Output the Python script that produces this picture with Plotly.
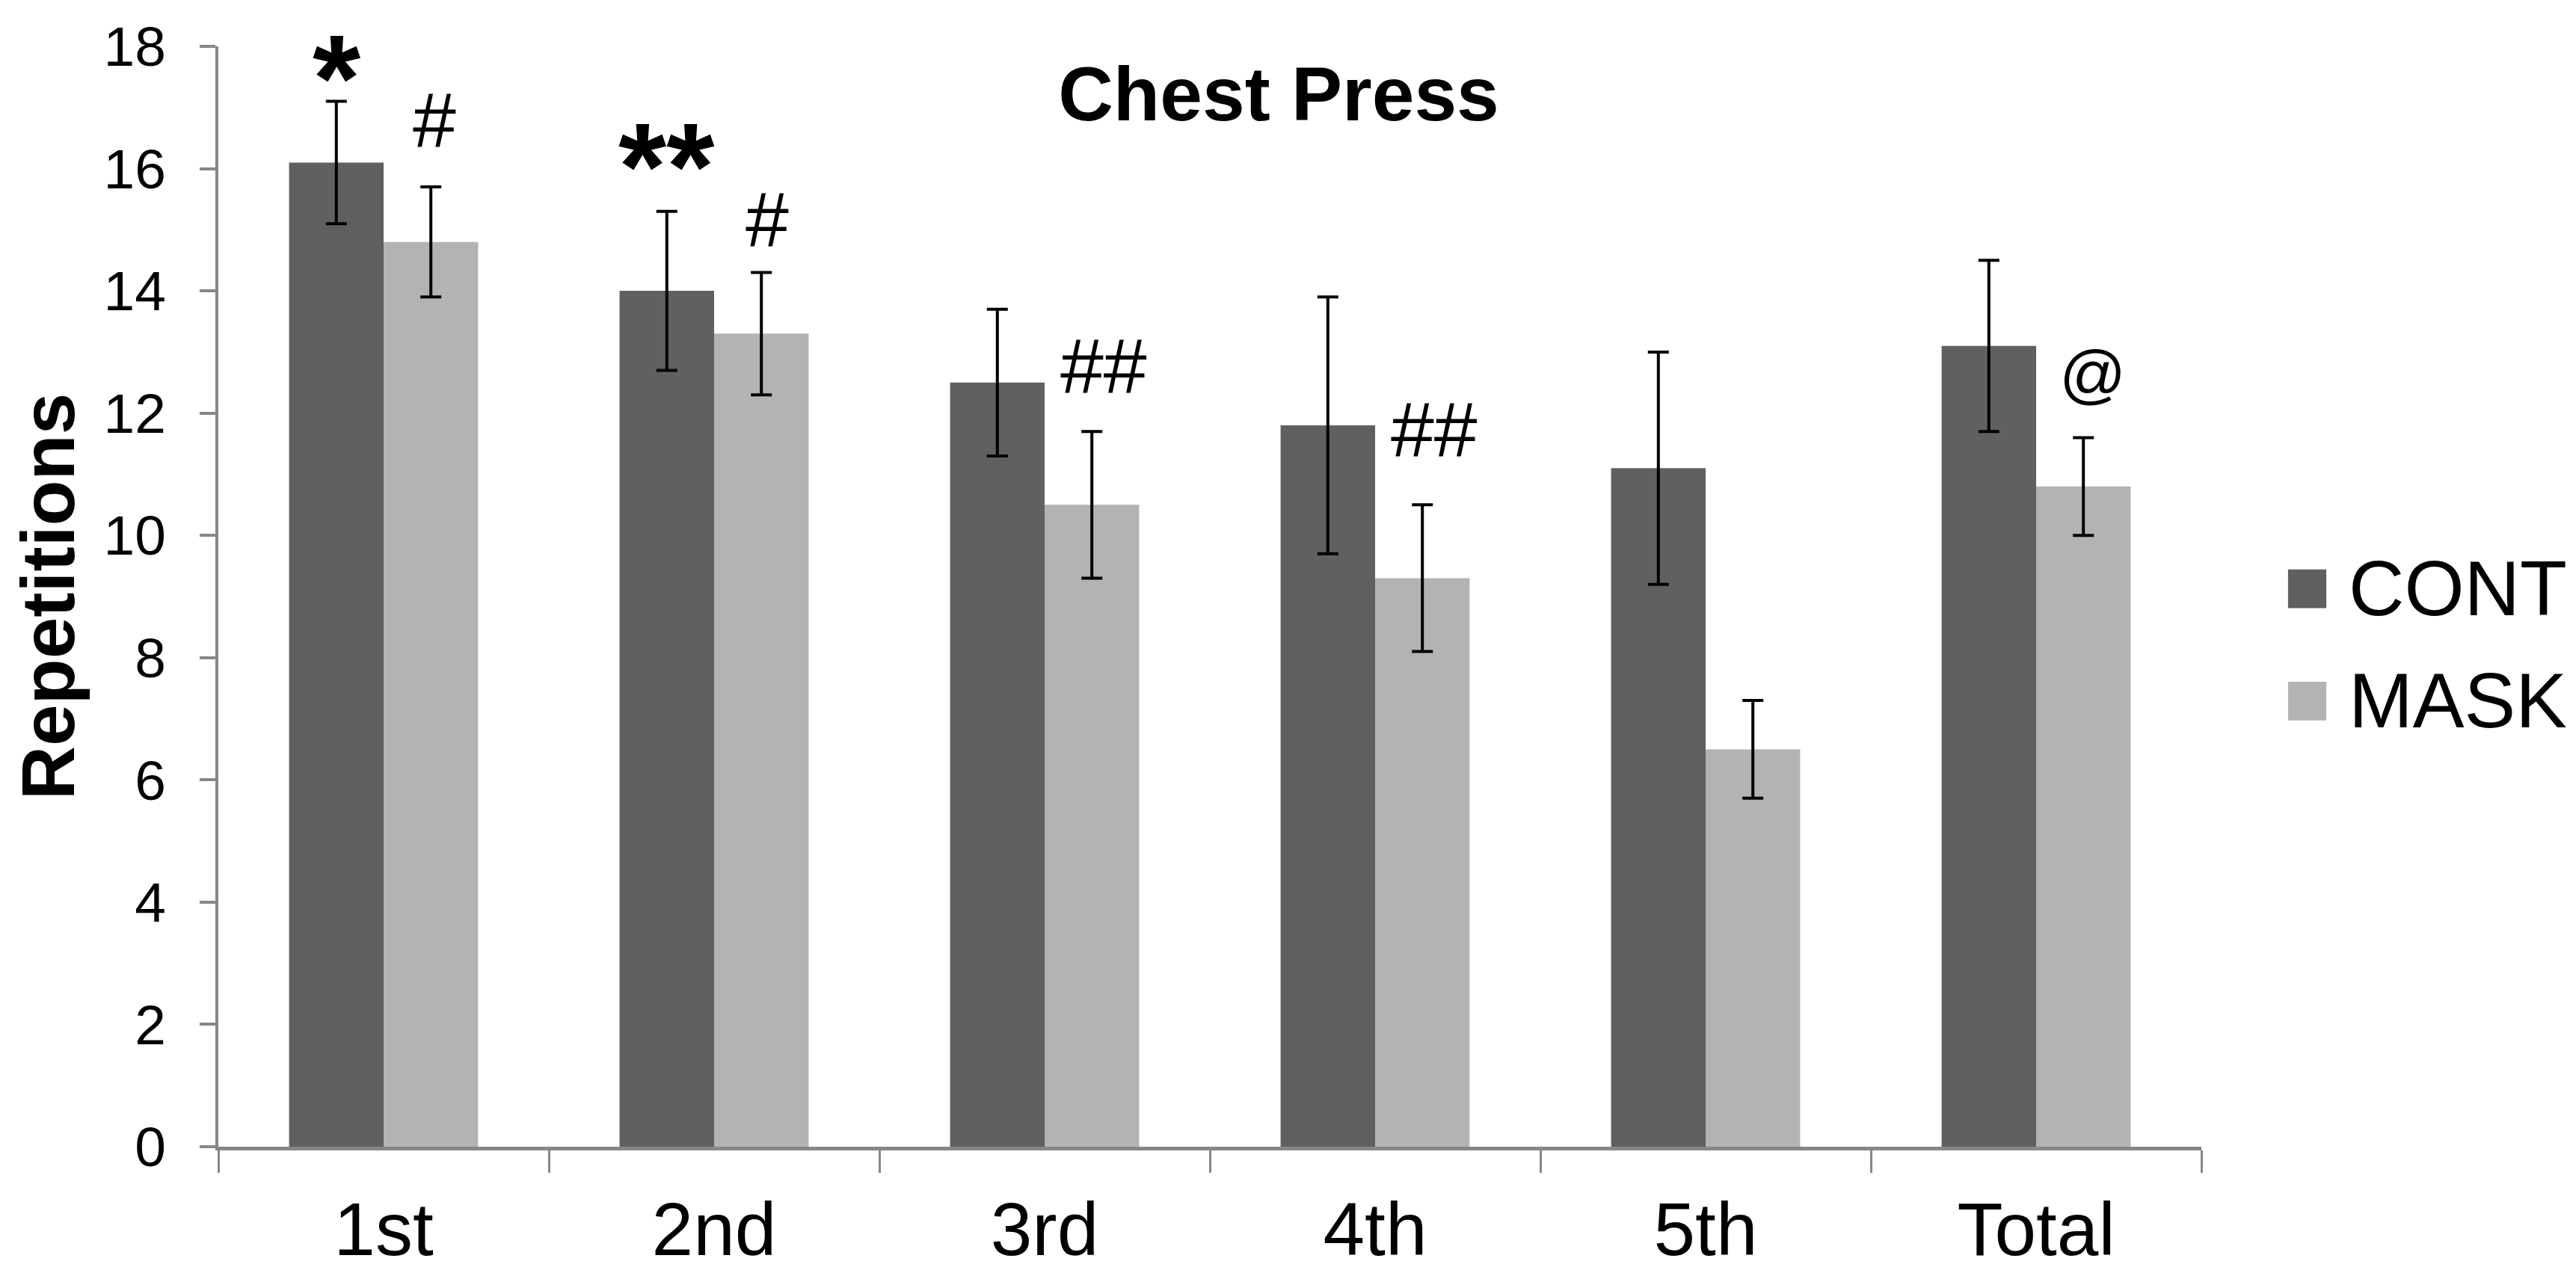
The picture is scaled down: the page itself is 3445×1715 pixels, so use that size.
import plotly.graph_objects as go

categories = ["1st", "2nd", "3rd", "4th", "5th", "Total"]
cont_values = [16.1, 14.0, 12.5, 11.8, 11.1, 13.1]
cont_errors = [1.0, 1.3, 1.2, 2.1, 1.9, 1.4]
mask_values = [14.8, 13.3, 10.5, 9.3, 6.5, 10.8]
mask_errors = [0.9, 1.0, 1.2, 1.2, 0.8, 0.8]
y_ticks = [0, 2, 4, 6, 8, 10, 12, 14, 16, 18]

# significance marks: (category, text, y value of glyph centre, xshift px, size, bold)
marks = [
    ("1st", "*", 17.78, -63, 165, True),
    ("1st", "#", 16.73, 68, 104, False),
    ("2nd", "**", 16.33, -64, 165, True),
    ("2nd", "#", 15.10, 71, 104, False),
    ("3rd", "##", 12.71, 79, 104, False),
    ("4th", "##", 11.67, 79, 104, False),
    ("Total", "@", 12.55, 75, 88, False),
]

CONT_COLOR = "#606060"
MASK_COLOR = "#b3b3b3"
AXIS_COLOR = "#878787"
FONT = "Liberation Sans, Arial, sans-serif"

fig = go.Figure()
fig.add_trace(go.Bar(
    name="CONT", x=categories, y=cont_values,
    marker=dict(color=CONT_COLOR, line=dict(width=0)),
    error_y=dict(type="data", array=cont_errors, visible=True,
                 color="black", thickness=4, width=14),
))
fig.add_trace(go.Bar(
    name="MASK", x=categories, y=mask_values,
    marker=dict(color=MASK_COLOR, line=dict(width=0)),
    error_y=dict(type="data", array=mask_errors, visible=True,
                 color="black", thickness=4, width=14),
))

annotations = []
for cat, txt, yv, xs, sz, bold in marks:
    annotations.append(dict(
        x=cat, y=yv, xref="x", yref="y", text=txt, showarrow=False,
        xshift=xs, yshift=-0.15 * sz if bold else (8 if txt == "@" else 5),
        xanchor="center", yanchor="middle",
        font=dict(family=FONT, size=sz, color="black",
                  weight="bold" if bold else "normal"),
    ))

# custom legend (large square swatches)
legend_items = [("CONT", CONT_COLOR, 0.5071), ("MASK", MASK_COLOR, 0.4050)]
shapes = []
for name, col, yc in legend_items:
    shapes.append(dict(type="rect", xref="paper", yref="paper",
                       x0=1.0437, x1=1.0630, y0=yc - 0.0176, y1=yc + 0.0176,
                       fillcolor=col, line=dict(width=0)))
    annotations.append(dict(x=1.0735, y=yc, xref="paper", yref="paper",
                            text=name, showarrow=False, xanchor="left",
                            yanchor="middle",
                            font=dict(family=FONT, size=103, color="black")))

fig.update_layout(
    width=3445, height=1715,
    margin=dict(l=284, r=509, t=47, b=189, pad=0),
    paper_bgcolor="white", plot_bgcolor="white",
    barmode="group", bargap=0.428, bargroupgap=0,
    showlegend=False,
    font=dict(family=FONT, color="black"),
    title=dict(text="Chest Press", x=0.5347, xref="paper", xanchor="center",
               y=1 - 117 / 1715, yref="container", yanchor="middle",
               font=dict(family=FONT, size=102, color="black", weight="bold")),
    annotations=annotations,
    shapes=shapes,
)

fig.update_xaxes(
    type="category",
    showline=True, linecolor=AXIS_COLOR, linewidth=5,
    ticks="outside", tickson="boundaries", ticklen=30, tickwidth=3,
    tickcolor=AXIS_COLOR, showgrid=False,
    tickfont=dict(family=FONT, size=100, color="black"),
    ticklabelstandoff=20,
)
fig.update_yaxes(
    range=[0, 18], tickvals=y_ticks, ticktext=[str(v) for v in y_ticks],
    showline=True, linecolor=AXIS_COLOR, linewidth=4,
    ticks="outside", ticklen=21, tickwidth=4, tickcolor=AXIS_COLOR,
    showgrid=False, zeroline=False,
    tickfont=dict(family=FONT, size=75, color="black"),
    ticklabelstandoff=30,
    title=dict(text="Repetitions", standoff=12,
               font=dict(family=FONT, size=100, color="black", weight="bold")),
)

fig.write_html("out.html")
